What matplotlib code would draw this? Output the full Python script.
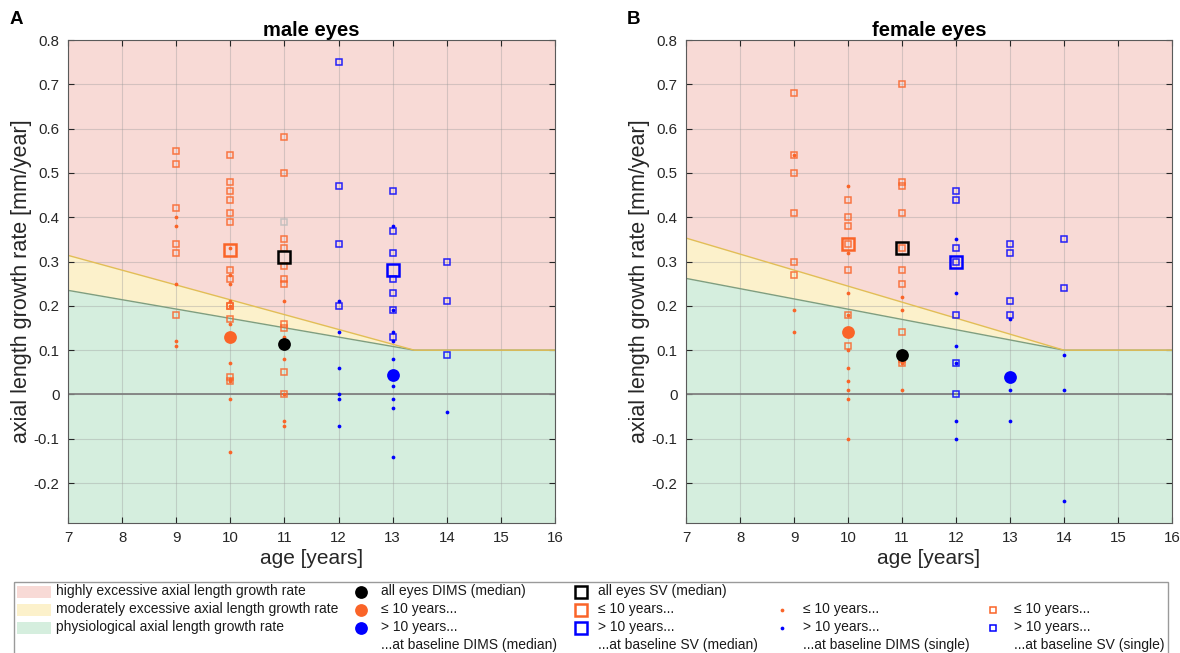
import matplotlib
matplotlib.use("Agg")
import matplotlib.pyplot as plt
from matplotlib.patches import Rectangle

plt.rcParams['font.family'] = ['Liberation Sans', 'DejaVu Sans']

# ---------------- data ----------------
# threshold curves (age, growth rate)
male_thr_age = [7, 13.4, 16]
male_thr_upper = [0.314, 0.1, 0.1]
male_thr_lower = [0.235, 0.1, 0.1]
female_thr_age = [7, 14, 16]
female_thr_upper = [0.353, 0.1, 0.1]
female_thr_lower = [0.262, 0.1, 0.1]

# male, DIMS single, <=10 years
m_dims_young_x = [9, 9, 9, 9, 9,
                  10, 10, 10, 10, 10, 10, 10, 10, 10, 10, 10,
                  11, 11, 11, 11, 11, 11]
m_dims_young_y = [0.40, 0.38, 0.25, 0.12, 0.11,
                  0.33, 0.27, 0.25, 0.21, 0.20, 0.16, 0.07, 0.035, 0.03, -0.01, -0.13,
                  0.21, 0.13, 0.08, 0.0, -0.06, -0.07]
# male, SV single, <=10 years
m_sv_young_x = [9, 9, 9, 9, 9, 9,
                10, 10, 10, 10, 10, 10, 10, 10, 10, 10, 10, 10, 10,
                11, 11, 11, 11, 11, 11, 11, 11, 11, 11, 11]
m_sv_young_y = [0.55, 0.52, 0.42, 0.34, 0.32, 0.18,
                0.54, 0.48, 0.46, 0.44, 0.41, 0.39, 0.28, 0.26, 0.20, 0.20, 0.17, 0.04, 0.03,
                0.58, 0.50, 0.35, 0.33, 0.29, 0.26, 0.25, 0.16, 0.15, 0.05, 0.0]
m_sv_other_x = [11]
m_sv_other_y = [0.39]
# male, DIMS single, >10 years
m_dims_old_x = [12, 12, 12, 12, 12, 12,
                13, 13, 13, 13, 13, 13, 13, 13, 13,
                14]
m_dims_old_y = [0.21, 0.14, 0.06, 0.0, -0.01, -0.07,
                0.38, 0.19, 0.14, 0.12, 0.08, 0.02, -0.01, -0.03, -0.14,
                -0.04]
# male, SV single, >10 years
m_sv_old_x = [12, 12, 12, 12,
              13, 13, 13, 13, 13, 13, 13,
              14, 14, 14]
m_sv_old_y = [0.75, 0.47, 0.34, 0.20,
              0.46, 0.37, 0.32, 0.26, 0.23, 0.19, 0.13,
              0.30, 0.21, 0.09]
# male medians: [all, <=10, >10]
m_dims_med_x = [11, 10, 13]
m_dims_med_y = [0.115, 0.13, 0.045]
m_sv_med_x = [11, 10, 13]
m_sv_med_y = [0.31, 0.325, 0.28]

# female, DIMS single, <=10 years
f_dims_young_x = [9, 9, 9,
                  10, 10, 10, 10, 10, 10, 10, 10, 10, 10,
                  11, 11, 11, 11]
f_dims_young_y = [0.54, 0.19, 0.14,
                  0.47, 0.32, 0.23, 0.18, 0.10, 0.06, 0.03, 0.01, -0.01, -0.10,
                  0.22, 0.19, 0.07, 0.01]
# female, SV single, <=10 years
f_sv_young_x = [9, 9, 9, 9, 9, 9,
                10, 10, 10, 10, 10, 10, 10,
                11, 11, 11, 11, 11, 11, 11, 11, 11, 11]
f_sv_young_y = [0.68, 0.54, 0.50, 0.41, 0.30, 0.27,
                0.44, 0.40, 0.38, 0.34, 0.28, 0.18, 0.11,
                0.70, 0.48, 0.47, 0.41, 0.33, 0.28, 0.25, 0.14, 0.08, 0.07]
# female, DIMS single, >10 years
f_dims_old_x = [12, 12, 12, 12, 12, 12,
                13, 13, 13,
                14, 14, 14]
f_dims_old_y = [0.35, 0.23, 0.11, 0.07, -0.06, -0.10,
                0.17, 0.01, -0.06,
                0.09, 0.01, -0.24]
# female, SV single, >10 years
f_sv_old_x = [12, 12, 12, 12, 12, 12, 12,
              13, 13, 13, 13,
              14, 14]
f_sv_old_y = [0.46, 0.44, 0.33, 0.30, 0.18, 0.07, 0.0,
              0.34, 0.32, 0.21, 0.18,
              0.35, 0.24]
# female medians: [all, <=10, >10]
f_dims_med_x = [11, 10, 13]
f_dims_med_y = [0.09, 0.14, 0.04]
f_sv_med_x = [11, 10, 12]
f_sv_med_y = [0.33, 0.34, 0.30]

x_ticks = list(range(7, 17))
y_ticks = [-0.2, -0.1, 0, 0.1, 0.2, 0.3, 0.4, 0.5, 0.6, 0.7, 0.8]
y_ticklabels = ['-0.2', '-0.1', '0', '0.1', '0.2', '0.3', '0.4', '0.5', '0.6', '0.7', '0.8']

# ---------------- styles ----------------
C_RED = '#F8DAD6'
C_YEL = '#FCF1CB'
C_GRN = '#D5EEDE'
C_OR = '#FA6428'
C_BL = '#0000FF'
C_K = '#000000'
C_GRAY = '#BDBDBD'

YMIN, YMAX = -0.29, 0.80

def dot(ax, x, y, c):
    ax.plot(x, y, ls='none', marker='o', ms=2.7, mfc=c, mec=c, mew=0, zorder=3)

def sq(ax, x, y, c):
    ax.plot(x, y, ls='none', marker='s', ms=4.5, mfc='none', mec=c, mew=1.1,
            alpha=0.85, zorder=3)

def med_circ(ax, x, y, colors):
    for xi, yi, c in zip(x, y, colors):
        ax.plot([xi], [yi], ls='none', marker='o', ms=9.2, mfc=c, mec=c, mew=0, zorder=4)

def med_sq(ax, x, y, colors):
    for xi, yi, c in zip(x, y, colors):
        ax.plot([xi], [yi], ls='none', marker='s', ms=8.5, mfc='none', mec=c,
                mew=1.8, zorder=4)

def panel(ax, thr_age, thr_up, thr_lo, title,
          dy_x, dy_y, sy_x, sy_y, do_x, do_y, so_x, so_y,
          dm_x, dm_y, sm_x, sm_y, extra=None):
    ax.fill_between(thr_age, YMIN, thr_lo, color=C_GRN, lw=0, zorder=0.2)
    ax.fill_between(thr_age, thr_lo, thr_up, color=C_YEL, lw=0, zorder=0.2)
    ax.fill_between(thr_age, thr_up, YMAX, color=C_RED, lw=0, zorder=0.2)
    ax.plot(thr_age, thr_lo, color='#7E9E80', lw=1.0, zorder=1)
    ax.plot(thr_age, thr_up, color='#E2BE55', lw=1.0, zorder=1)
    ax.axhline(0, color='#808080', lw=1.3, zorder=1)

    sq(ax, sy_x, sy_y, C_OR)
    sq(ax, so_x, so_y, C_BL)
    if extra is not None:
        sq(ax, extra[0], extra[1], C_GRAY)
    dot(ax, dy_x, dy_y, C_OR)
    dot(ax, do_x, do_y, C_BL)
    med_circ(ax, dm_x, dm_y, [C_K, C_OR, C_BL])
    med_sq(ax, sm_x, sm_y, [C_K, C_OR, C_BL])

    ax.set_xlim(7, 16)
    ax.set_ylim(YMIN, YMAX)
    ax.set_xticks(x_ticks)
    ax.set_yticks(y_ticks)
    ax.set_yticklabels(y_ticklabels)
    ax.set_axisbelow(True)
    ax.grid(True, color='#9a9a9a', alpha=0.38, lw=0.8)
    ax.tick_params(direction='in', length=4, width=0.8, top=True, right=True,
                   labelsize=10.8, colors='#262626', pad=6)
    for s in ax.spines.values():
        s.set_color('#5a5a5a')
        s.set_linewidth(0.8)
    ax.set_xlabel('age [years]', fontsize=15, color='#262626', labelpad=3)
    ax.set_ylabel('axial length growth rate [mm/year]', fontsize=15.5,
                  color='#262626', labelpad=1)
    ax.set_title(title, fontsize=14.5, fontweight='bold', pad=3)


fig = plt.figure(figsize=(11.8, 6.53), dpi=100)
W, H = 1180.0, 653.0
axL = fig.add_axes([68 / W, 1 - 523 / H, 487 / W, 483 / H])
axR = fig.add_axes([686 / W, 1 - 523 / H, 486 / W, 483 / H])

panel(axL, male_thr_age, male_thr_upper, male_thr_lower, 'male eyes',
      m_dims_young_x, m_dims_young_y, m_sv_young_x, m_sv_young_y,
      m_dims_old_x, m_dims_old_y, m_sv_old_x, m_sv_old_y,
      m_dims_med_x, m_dims_med_y, m_sv_med_x, m_sv_med_y,
      extra=(m_sv_other_x, m_sv_other_y))
panel(axR, female_thr_age, female_thr_upper, female_thr_lower, 'female eyes',
      f_dims_young_x, f_dims_young_y, f_sv_young_x, f_sv_young_y,
      f_dims_old_x, f_dims_old_y, f_sv_old_x, f_sv_old_y,
      f_dims_med_x, f_dims_med_y, f_sv_med_x, f_sv_med_y)

fig.text(10 / W, 1 - 20 / H, 'A', fontsize=13.5, fontweight='bold', va='center')
fig.text(627 / W, 1 - 20 / H, 'B', fontsize=13.5, fontweight='bold', va='center')

# ---------------- legend (pixel coordinates) ----------------
lg = fig.add_axes([0, 0, 1, 1], zorder=-1)
lg.set_xlim(0, W)
lg.set_ylim(H, 0)
lg.axis('off')
lg.add_patch(Rectangle((14, 582), 1154, 90, fill=False, ec='#9a9a9a', lw=1.0,
                       clip_on=False))
rows = [591.5, 609.5, 627.5, 645.5]
FS = 10
TC = '#1a1a1a'
patch_labels = ['highly excessive axial length growth rate',
                'moderately excessive axial length growth rate',
                'physiological axial length growth rate']
for r, c, t in zip(rows, [C_RED, C_YEL, C_GRN], patch_labels):
    lg.add_patch(Rectangle((17, r - 6), 34, 12, fc=c, ec='none'))
    lg.text(56, r, t, fontsize=FS, va='center', color=TC)

col2 = ['all eyes DIMS (median)', '\u2264 10 years...', '> 10 years...']
for r, c, t in zip(rows, [C_K, C_OR, C_BL], col2):
    lg.plot([361], [r], ls='none', marker='o', ms=9.2, mfc=c, mec=c, mew=0)
    lg.text(381, r, t, fontsize=FS, va='center', color=TC)
lg.text(381, rows[3], '...at baseline DIMS (median)', fontsize=FS, va='center', color=TC)

col3 = ['all eyes SV (median)', '\u2264 10 years...', '> 10 years...']
for r, c, t in zip(rows, [C_K, C_OR, C_BL], col3):
    lg.plot([581], [r], ls='none', marker='s', ms=8.5, mfc='none', mec=c, mew=1.8)
    lg.text(598, r, t, fontsize=FS, va='center', color=TC)
lg.text(598, rows[3], '...at baseline SV (median)', fontsize=FS, va='center', color=TC)

for r, c, t in zip(rows[1:3], [C_OR, C_BL], ['\u2264 10 years...', '> 10 years...']):
    lg.plot([782], [r], ls='none', marker='o', ms=2.7, mfc=c, mec=c, mew=0)
    lg.text(803, r, t, fontsize=FS, va='center', color=TC)
lg.text(803, rows[3], '...at baseline DIMS (single)', fontsize=FS, va='center', color=TC)

for r, c, t in zip(rows[1:3], [C_OR, C_BL], ['\u2264 10 years...', '> 10 years...']):
    lg.plot([993], [r], ls='none', marker='s', ms=4.5, mfc='none', mec=c, mew=1.1)
    lg.text(1014, r, t, fontsize=FS, va='center', color=TC)
lg.text(1014, rows[3], '...at baseline SV (single)', fontsize=FS, va='center', color=TC)

fig.savefig('out.png', dpi=100)
